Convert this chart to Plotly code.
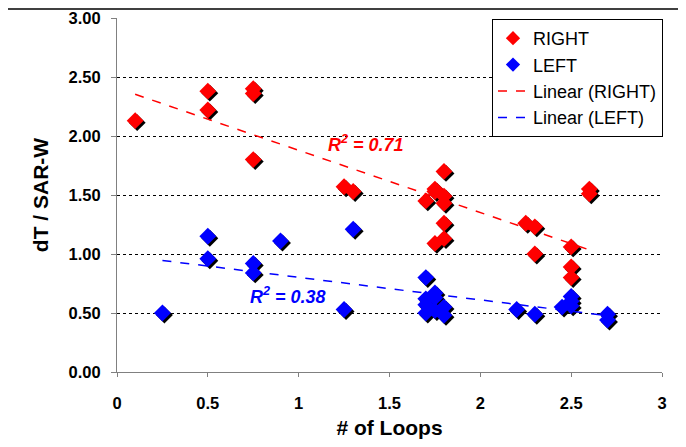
import numpy as np
import plotly.graph_objects as go

# ---- data ----
right_x = [0.1, 0.5, 0.5, 0.75, 0.75, 0.75, 1.25, 1.3,
           1.7, 1.75, 1.75, 1.8, 1.8, 1.8, 1.8, 1.8, 1.75,
           2.25, 2.3, 2.3, 2.5, 2.5, 2.5, 2.6, 2.6]
right_y = [2.13, 2.38, 2.22, 2.40, 2.36, 1.80, 1.57, 1.53,
           1.45, 1.55, 1.53, 1.70, 1.49, 1.43, 1.26, 1.13, 1.09,
           1.26, 1.23, 1.00, 1.06, 0.89, 0.80, 1.55, 1.51]

left_x = [0.25, 0.5, 0.5, 0.75, 0.75, 0.9, 1.25, 1.3,
          1.7, 1.7, 1.7, 1.7, 1.75, 1.75, 1.75, 1.8, 1.8,
          2.2, 2.3, 2.45, 2.5, 2.5, 2.5, 2.7, 2.7]
left_y = [0.50, 1.15, 0.96, 0.92, 0.84, 1.11, 0.53, 1.21,
          0.80, 0.62, 0.57, 0.50, 0.67, 0.63, 0.52, 0.55, 0.48,
          0.53, 0.49, 0.55, 0.64, 0.60, 0.56, 0.49, 0.44]

r2_right_text = "R<sup>2</sup> = 0.71"
r2_left_text = "R<sup>2</sup> = 0.38"
x_ticks = [0, 0.5, 1, 1.5, 2, 2.5, 3]
x_tick_labels = ["0", "0.5", "1", "1.5", "2", "2.5", "3"]
y_ticks = [0, 0.5, 1, 1.5, 2, 2.5, 3]
y_tick_labels = ["0.00", "0.50", "1.00", "1.50", "2.00", "2.50", "3.00"]

RED = "#FF0000"
BLUE = "#0000FF"
FONT = "Liberation Sans, Arial, sans-serif"

# page body has an 8px margin; size/margins compensate for it
W, H = 678, 439
ML, MR, MT, MB = 109, 24, 10, 75
pw, ph = W - ML - MR, H - MT - MB
dx = 2.0 * 3.0 / pw   # 2 px shadow offset in data units
dy = 2.0 * 3.0 / ph


def fit_line(xs, ys):
    a, b = np.polyfit(xs, ys, 1)
    xl = np.array([min(xs), max(xs)])
    return xl, a * xl + b


fig = go.Figure()

# marker shadows
for xs, ys in [(right_x, right_y), (left_x, left_y)]:
    fig.add_trace(go.Scatter(
        x=np.array(xs) + dx, y=np.array(ys) - dy, mode="markers",
        marker=dict(symbol="diamond", size=13, color="black"),
        showlegend=False, hoverinfo="skip"))

fig.add_trace(go.Scatter(x=right_x, y=right_y, mode="markers", name="RIGHT",
                         marker=dict(symbol="diamond", size=13, color=RED),
                         showlegend=False))
fig.add_trace(go.Scatter(x=left_x, y=left_y, mode="markers", name="LEFT",
                         marker=dict(symbol="diamond", size=13, color=BLUE),
                         showlegend=False))

rx, ry = fit_line(right_x, right_y)
lx, ly = fit_line(left_x, left_y)
fig.add_trace(go.Scatter(x=rx, y=ry, mode="lines", name="Linear (RIGHT)",
                         line=dict(color=RED, width=1.5, dash="dash"),
                         showlegend=False))
fig.add_trace(go.Scatter(x=lx, y=ly, mode="lines", name="Linear (LEFT)",
                         line=dict(color=BLUE, width=1.5, dash="dash"),
                         showlegend=False))

# legend entries (smaller symbols, as in the reference)
fig.add_trace(go.Scatter(x=[None], y=[None], mode="markers", name="RIGHT",
                         marker=dict(symbol="diamond", size=11, color=RED)))
fig.add_trace(go.Scatter(x=[None], y=[None], mode="markers", name="LEFT",
                         marker=dict(symbol="diamond", size=11, color=BLUE)))
fig.add_trace(go.Scatter(x=[None], y=[None], mode="lines", name="Linear (RIGHT)",
                         line=dict(color=RED, width=1.5, dash="dash")))
fig.add_trace(go.Scatter(x=[None], y=[None], mode="lines", name="Linear (LEFT)",
                         line=dict(color=BLUE, width=1.5, dash="dash")))

fig.add_annotation(x=1.37, y=1.94, text="<b><i>" + r2_right_text + "</i></b>",
                   showarrow=False, font=dict(family=FONT, size=18, color=RED))
fig.add_annotation(x=0.94, y=0.645, text="<b><i>" + r2_left_text + "</i></b>",
                   showarrow=False, font=dict(family=FONT, size=18, color=BLUE))

# outer frame (top edge)
fig.add_shape(type="line", xref="paper", yref="paper",
              x0=-ML / pw, x1=(W - ML) / pw,
              y0=(H - MB - 1) / ph, y1=(H - MB - 1) / ph,
              line=dict(color="black", width=1.5))

# legend shadow
fig.add_shape(type="rect", xref="paper", yref="paper",
              x0=(486 - ML) / pw, x1=(655 - ML) / pw,
              y0=(H - MB - 124) / ph, y1=(H - MB - 14) / ph,
              fillcolor="#909090", line=dict(width=0), layer="above")

fig.update_layout(
    width=W, height=H,
    margin=dict(l=ML, r=MR, t=MT, b=MB),
    paper_bgcolor="white", plot_bgcolor="white",
    font=dict(family=FONT, color="black"),
    xaxis=dict(range=[0, 3], tickvals=x_ticks, ticktext=x_tick_labels,
               showgrid=False, zeroline=False, showline=True,
               linecolor="#808080", linewidth=1, ticks="outside",
               tickcolor="#808080", ticklen=4, ticklabelstandoff=12,
               automargin=False,
               tickfont=dict(family=FONT, size=16.5, color="black", weight="bold"),
               title=dict(text="<b># of Loops</b>", standoff=9,
                          font=dict(family=FONT, size=21))),
    yaxis=dict(range=[0, 3], tickvals=y_ticks, ticktext=y_tick_labels,
               showgrid=True, gridcolor="black", griddash="dot", gridwidth=1,
               zeroline=False, showline=True,
               linecolor="#808080", linewidth=1, ticks="outside",
               tickcolor="#808080", ticklen=5, ticklabelstandoff=7,
               automargin=False,
               tickfont=dict(family=FONT, size=16.5, color="black", weight="bold"),
               title=dict(text="<b>dT / SAR-W</b>", standoff=14,
                          font=dict(family=FONT, size=21))),
    legend=dict(x=(484 - ML) / pw, y=(H - MB - 11) / ph, xanchor="left", yanchor="top",
                bgcolor="white", bordercolor="black", borderwidth=1,
                font=dict(family=FONT, size=18, color="black"),
                tracegroupgap=0, itemwidth=30),
    showlegend=True,
)

fig.write_html("out.html")
